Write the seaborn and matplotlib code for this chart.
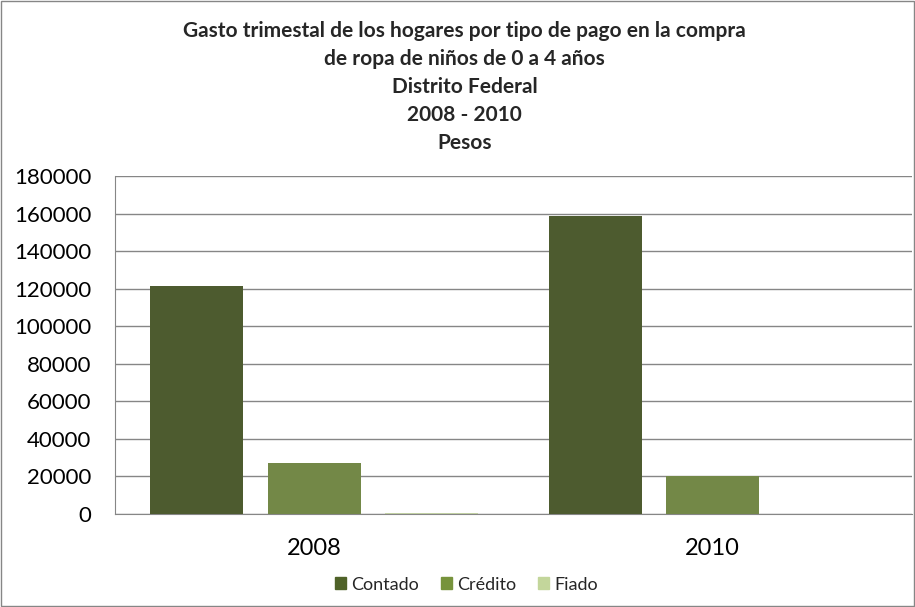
import pandas as pd
import matplotlib
matplotlib.use("Agg")
import matplotlib.pyplot as plt
import seaborn as sns
from matplotlib.patches import Rectangle

# datos
years = ["2008", "2010"]
payment_types = ["Contado", "Crédito", "Fiado"]
contado = [121600, 158700]
credito = [27100, 20100]
fiado = [700, 0]

colors = ["#4F6228", "#77933C", "#C3D69B"]

df = pd.DataFrame({
    "year": years * 3,
    "tipo": [t for t in payment_types for _ in years],
    "gasto": contado + credito + fiado,
})

sns.set_style("white")
plt.rcParams["font.family"] = ["Lato", "DejaVu Sans"]

fig = plt.figure(figsize=(9.15, 6.07), dpi=100)
ax = fig.add_axes([0.1257, 0.1532, 0.871, 0.5568])

sns.barplot(data=df, x="year", y="gasto", hue="tipo", order=years,
            hue_order=payment_types, palette=colors, width=0.886, gap=0.21,
            ax=ax, legend=False, zorder=3, linewidth=0)

ax.set_ylim(0, 180000)
ax.set_yticks(range(0, 180001, 20000))
ax.set_xlim(-0.5, 1.5)
ax.grid(axis="y", color="#868686", linewidth=1, zorder=0)
ax.set_axisbelow(True)
for side in ["top", "right"]:
    ax.spines[side].set_visible(False)
for side in ["left", "bottom"]:
    ax.spines[side].set_color("#868686")
ax.tick_params(axis="both", length=0, labelsize=16, colors="black")
ax.tick_params(axis="y", pad=17)
ax.tick_params(axis="x", labelsize=17, pad=17)
ax.set_xlabel("")
ax.set_ylabel("")

title = ("Gasto trimestal de los hogares por tipo de pago en la compra\n"
         "de ropa de niños de 0 a 4 años\n"
         "Distrito Federal\n"
         "2008 - 2010\n"
         "Pesos")
fig.text(0.508, 0.965, title, ha="center", va="top", fontsize=15,
         fontweight="bold", linespacing=1.49)

handles = [Rectangle((0, 0), 1, 1, color=c) for c in colors]
fig.legend(handles, payment_types, loc="center", bbox_to_anchor=(0.51, 0.037),
           ncol=3, frameon=False, fontsize=13, handlelength=0.6,
           handleheight=0.6, handletextpad=0.3, columnspacing=1.2)

fig.add_artist(Rectangle((0.001, 0.001), 0.998, 0.997, transform=fig.transFigure,
                         fill=False, edgecolor="#868686", linewidth=1))

fig.savefig("out.png", dpi=100)
